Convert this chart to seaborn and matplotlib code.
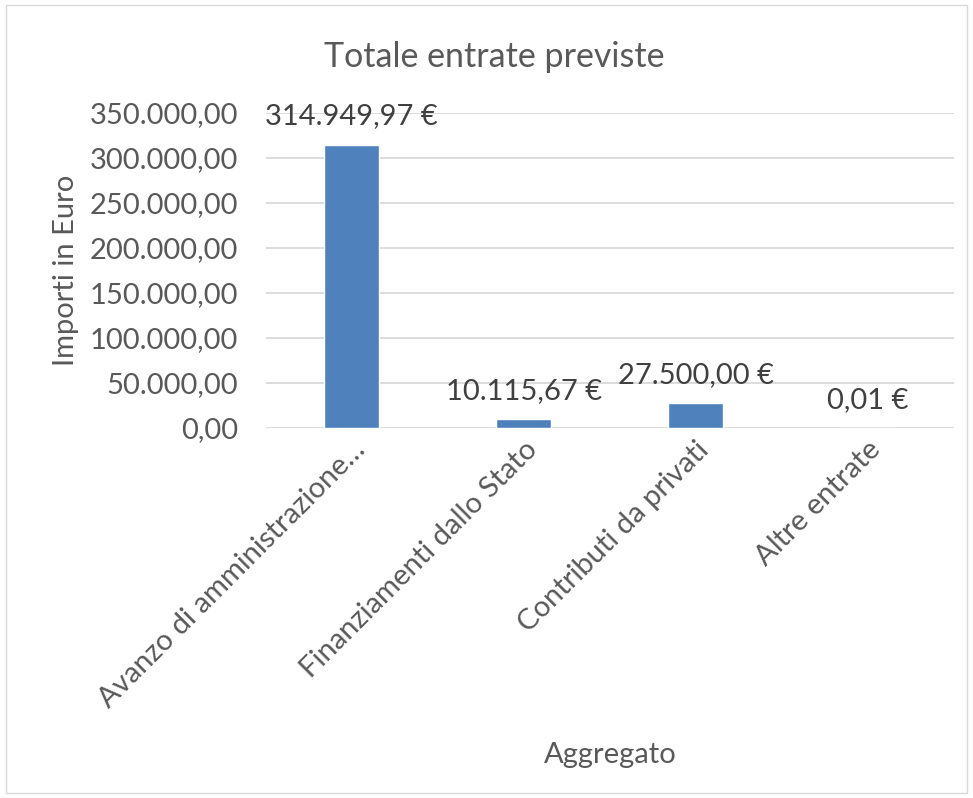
import matplotlib
matplotlib.use("Agg")
import matplotlib.pyplot as plt
import matplotlib.patches as mpatches
import pandas as pd
import seaborn as sns
from matplotlib.ticker import FuncFormatter

categorie = ["Avanzo di amministrazione…", "Finanziamenti dallo Stato",
             "Contributi da privati", "Altre entrate"]
importi = [314949.97, 10115.67, 27500.00, 0.01]
etichette = ["314.949,97 €", "10.115,67 €", "27.500,00 €", "0,01 €"]
y_ticks = [0, 50000, 100000, 150000, 200000, 250000, 300000, 350000]

sns.set_theme(style="white")
plt.rcParams["font.family"] = ["Lato", "DejaVu Sans"]

df = pd.DataFrame({"Aggregato": categorie, "Importo": importi})

TXT = "#595959"
FS = 21


def fmt_it(v, pos=None):
    s = f"{v:,.2f}"
    return s.replace(",", "X").replace(".", ",").replace("X", ".")


fig = plt.figure(figsize=(9.73, 7.98), dpi=100)
ax = fig.add_axes([0.273, 0.4637, 0.707, 0.3947])

sns.barplot(data=df, x="Aggregato", y="Importo", color="#4F81BD",
            width=0.32, saturation=1, ax=ax)

ax.set_ylim(0, 350000)
ax.set_xlim(-0.5, 3.5)
ax.set_yticks(y_ticks)
ax.yaxis.set_major_formatter(FuncFormatter(fmt_it))
ax.grid(axis="y", color="#D9D9D9", linewidth=1.3)
ax.set_axisbelow(True)
for s in ax.spines.values():
    s.set_visible(False)
ax.tick_params(axis="both", length=0, labelsize=FS, colors=TXT)
ax.tick_params(axis="y", pad=20)
ax.set_xticks(range(len(categorie)))
ax.set_xticklabels(categorie, rotation=45, ha="right", rotation_mode="anchor")
ax.tick_params(axis="x", pad=6)

for i, (v, t) in enumerate(zip(importi, etichette)):
    ax.annotate(t, (i, v), xytext=(0, 11), textcoords="offset points",
                ha="center", va="bottom", fontsize=FS, color="#404040")

ax.set_xlabel("")
ax.set_ylabel("")
fig.text(0.068, 0.661, "Importi in Euro", rotation=90, ha="center",
         va="center", fontsize=FS, color=TXT)
fig.text(0.627, 0.054, "Aggregato", ha="center", va="center",
         fontsize=FS, color=TXT)
fig.text(0.508, 0.929, "Totale entrate previste", ha="center", va="center",
         fontsize=24.5, color=TXT)

fig.patches.append(mpatches.Rectangle((0.006, 0.006), 0.988, 0.988,
                                      transform=fig.transFigure, fill=False,
                                      edgecolor="#D9D9D9", linewidth=1))

fig.savefig("out.png", dpi=100)
